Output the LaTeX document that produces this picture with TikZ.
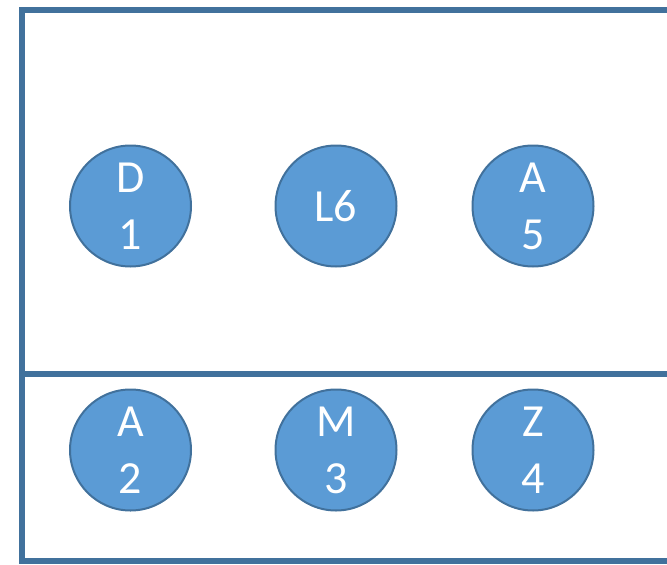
\documentclass[tikz,border=0pt]{standalone}
\usepackage{fontspec}
\setmainfont{Carlito}
\definecolor{frameblue}{HTML}{41719C}
\definecolor{fillblue}{HTML}{5B9BD5}
\begin{document}
\begin{tikzpicture}[x=1pt,y=-1pt,
  ball/.style={circle,draw=frameblue,line width=2pt,fill=fillblue,minimum size=121pt,inner sep=0pt,
    text=white,align=center,font=\fontsize{46}{57}\selectfont},
  framel/.style={draw=frameblue,line width=6pt}]
\useasboundingbox (0,0) rectangle (667,565);
\clip (0,0) rectangle (667,565);
\path[framel] (22,10) rectangle (690,561);
\coordinate (dl) at (22,373.5);
\coordinate (dr) at (690,373.5);
\draw[framel] (dl) -- (dr);
\node[ball] (d1) at (130.5,206) {D\\1};
\node[ball] (l6) at (336,206) {L6};
\node[ball] (a5) at (533,206) {A\\5};
\node[ball] (a2) at (130.5,450) {A\\2};
\node[ball] (m3) at (336,450) {M\\3};
\node[ball] (z4) at (533,450) {Z\\4};
\end{tikzpicture}
\end{document}
